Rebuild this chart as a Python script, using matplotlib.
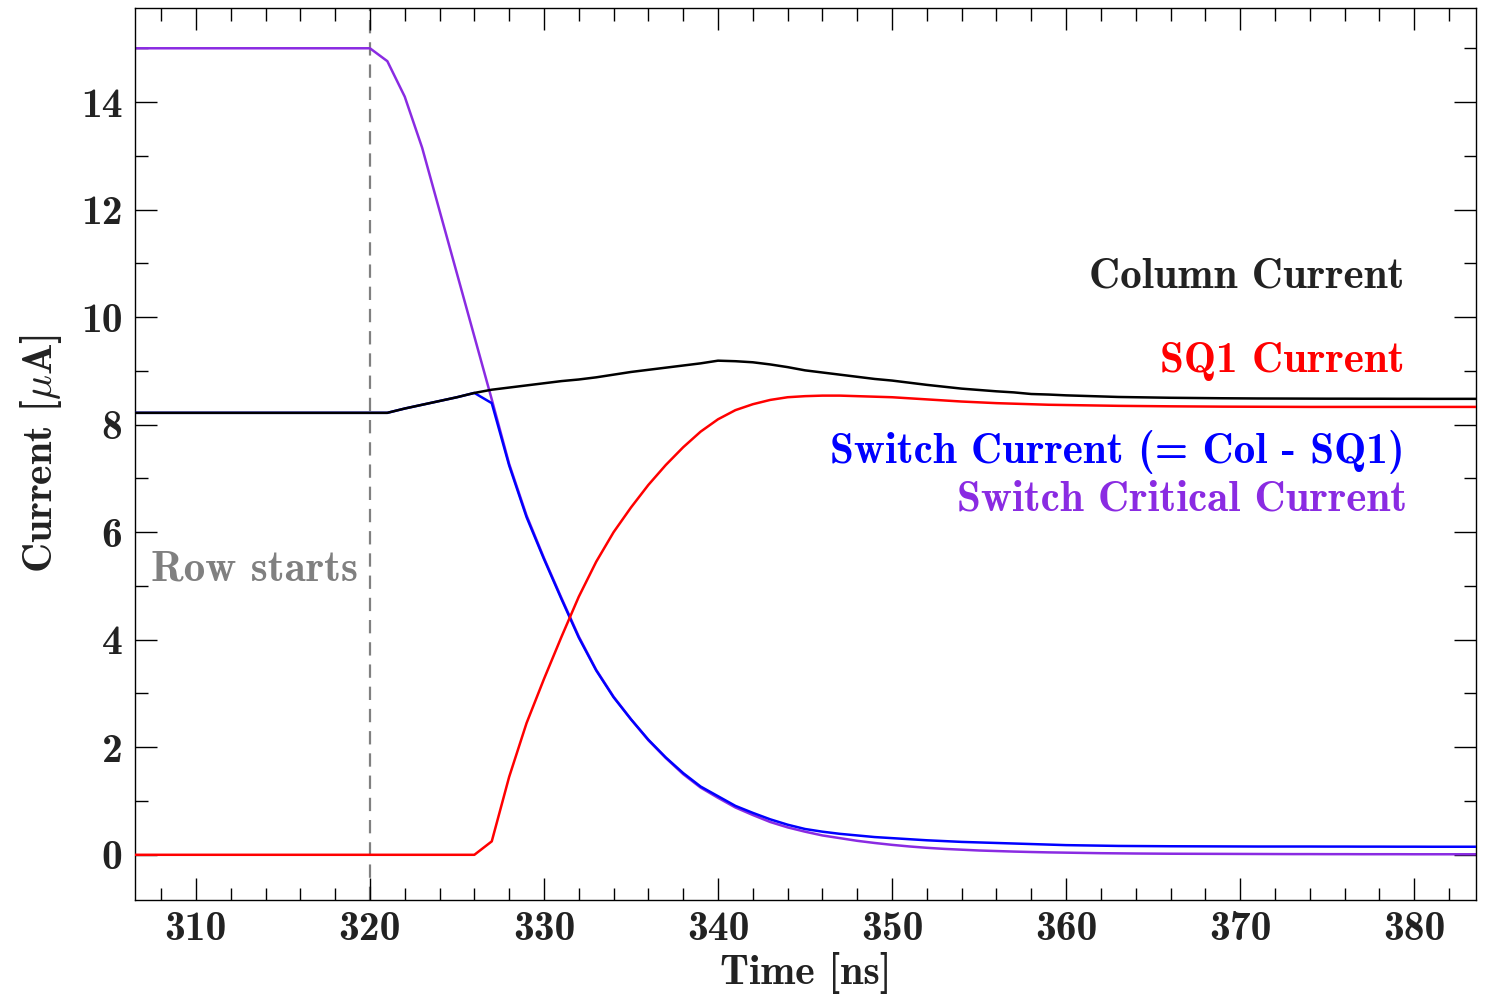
import numpy as np
import matplotlib
matplotlib.use('Agg')
import matplotlib.pyplot as plt
from matplotlib.ticker import MultipleLocator

plt.rcParams['font.family'] = ['cmb10', 'DejaVu Serif']
plt.rcParams['mathtext.fontset'] = 'cm'
plt.rcParams['axes.unicode_minus'] = False

# time axis, 1 ns sampling
time_ns = np.arange(306, 385)

column_current = [
    8.22, 8.22, 8.22, 8.22, 8.22, 8.22, 8.22, 8.22, 8.22, 8.22,   # 306-315
    8.22, 8.22, 8.22, 8.22, 8.22, 8.22, 8.30, 8.37, 8.44, 8.51,   # 316-325
    8.59, 8.65, 8.69, 8.73, 8.77, 8.81, 8.84, 8.88, 8.93, 8.98,   # 326-335
    9.02, 9.06, 9.10, 9.14, 9.19, 9.18, 9.16, 9.12, 9.07, 9.01,   # 336-345
    8.97, 8.93, 8.89, 8.85, 8.82, 8.78, 8.74, 8.705, 8.67, 8.645, # 346-355
    8.62, 8.60, 8.57, 8.56, 8.545, 8.535, 8.525, 8.515, 8.51, 8.505,  # 356-365
    8.50, 8.497, 8.494, 8.491, 8.489, 8.487, 8.486, 8.485, 8.484, 8.483,  # 366-375
    8.483, 8.482, 8.482, 8.481, 8.481, 8.48, 8.48, 8.48, 8.48,   # 376-384
]

sq1_current = [
    0, 0, 0, 0, 0, 0, 0, 0, 0, 0,                                # 306-315
    0, 0, 0, 0, 0, 0, 0, 0, 0, 0,                                # 316-325
    0, 0.25, 1.45, 2.45, 3.27, 4.05, 4.80, 5.45, 6.00, 6.46,     # 326-335
    6.88, 7.25, 7.58, 7.87, 8.10, 8.27, 8.38, 8.46, 8.51, 8.53,  # 336-345
    8.54, 8.54, 8.53, 8.52, 8.51, 8.49, 8.47, 8.45, 8.43, 8.415, # 346-355
    8.40, 8.39, 8.38, 8.37, 8.365, 8.36, 8.355, 8.35, 8.347, 8.344,  # 356-365
    8.341, 8.339, 8.337, 8.335, 8.334, 8.333, 8.332, 8.331, 8.33, 8.33,  # 366-375
    8.33, 8.33, 8.33, 8.33, 8.33, 8.33, 8.33, 8.33, 8.33,        # 376-384
]

switch_current = [
    8.22, 8.22, 8.22, 8.22, 8.22, 8.22, 8.22, 8.22, 8.22, 8.22,  # 306-315
    8.22, 8.22, 8.22, 8.22, 8.22, 8.22, 8.30, 8.37, 8.44, 8.51,  # 316-325
    8.59, 8.40, 7.24, 6.28, 5.50, 4.76, 4.04, 3.43, 2.93, 2.52,  # 326-335
    2.14, 1.81, 1.52, 1.27, 1.09, 0.91, 0.78, 0.66, 0.56, 0.48,  # 336-345
    0.43, 0.39, 0.36, 0.33, 0.31, 0.29, 0.27, 0.255, 0.24, 0.23, # 346-355
    0.22, 0.21, 0.20, 0.19, 0.18, 0.175, 0.17, 0.165, 0.163, 0.161,  # 356-365
    0.159, 0.158, 0.157, 0.156, 0.155, 0.154, 0.154, 0.154, 0.154, 0.153,  # 366-375
    0.153, 0.152, 0.152, 0.151, 0.151, 0.15, 0.15, 0.15, 0.15,   # 376-384
]

critical_current = [
    15.0, 15.0, 15.0, 15.0, 15.0, 15.0, 15.0, 15.0, 15.0, 15.0,  # 306-315
    15.0, 15.0, 15.0, 15.0, 15.0, 14.76, 14.10, 13.15, 11.98, 10.81,  # 316-325
    9.64, 8.47, 7.27, 6.31, 5.52, 4.78, 4.06, 3.44, 2.94, 2.52,  # 326-335
    2.13, 1.80, 1.50, 1.25, 1.06, 0.88, 0.74, 0.61, 0.51, 0.43,  # 336-345
    0.36, 0.31, 0.26, 0.22, 0.185, 0.155, 0.13, 0.11, 0.095, 0.08,  # 346-355
    0.07, 0.06, 0.052, 0.045, 0.04, 0.035, 0.03, 0.027, 0.024, 0.022,  # 356-365
    0.02, 0.019, 0.018, 0.017, 0.016, 0.015, 0.014, 0.013, 0.013, 0.012,  # 366-375
    0.012, 0.011, 0.011, 0.011, 0.01, 0.01, 0.01, 0.01, 0.01,    # 376-384
]

row_start = 320

text_col = '#222222'
purple = '#8a2be2'
fs = 30

fig, ax = plt.subplots(figsize=(14.85, 9.94), dpi=100)
fig.subplots_adjust(left=0.0909, right=0.9939, top=0.992, bottom=0.0946)

ax.plot(time_ns, critical_current, color=purple, lw=1.8, zorder=2)
ax.plot(time_ns, switch_current, color='blue', lw=1.8, zorder=3)
ax.plot(time_ns, column_current, color='black', lw=1.8, zorder=4)
ax.plot(time_ns, sq1_current, color='red', lw=1.8, zorder=5)
ax.axvline(row_start, color='gray', ls=(0, (6, 4)), lw=1.6, zorder=1)

ax.set_xlim(306.5, 383.55)
ax.set_ylim(-0.84, 15.75)

ax.xaxis.set_major_locator(MultipleLocator(10))
ax.xaxis.set_minor_locator(MultipleLocator(2))
ax.yaxis.set_major_locator(MultipleLocator(2))
ax.yaxis.set_minor_locator(MultipleLocator(1))
ax.tick_params(which='both', direction='in', top=True, right=True,
               labelsize=fs, labelcolor=text_col, width=1.0)
ax.tick_params(which='major', length=16)
ax.tick_params(which='minor', length=9)
ax.tick_params(axis='x', pad=8)
ax.tick_params(axis='y', pad=9)
for sp in ax.spines.values():
    sp.set_linewidth(1.0)

ax.set_xlabel('Time [ns]', fontsize=fs, color=text_col, labelpad=3)
ax.set_ylabel(r'Current [$\mu$A]', fontsize=fs, color=text_col, labelpad=12)

# curve labels stacked at the right
lbl = dict(transform=ax.transData, fontsize=31, ha='right', va='center')
ax.text(379.45, 10.75, 'Column Current', color=text_col, **lbl)
ax.text(379.45, 9.18, 'SQ1 Current', color='red', **lbl)
ax.text(379.45, 7.49, 'Switch Current (= Col - SQ1)', color='blue', **lbl)
ax.text(379.6, 6.6, 'Switch Critical Current', color=purple, **lbl)
ax.text(319.3, 5.3, 'Row starts', color='gray', **lbl)

fig.savefig('out.png', dpi=100)
